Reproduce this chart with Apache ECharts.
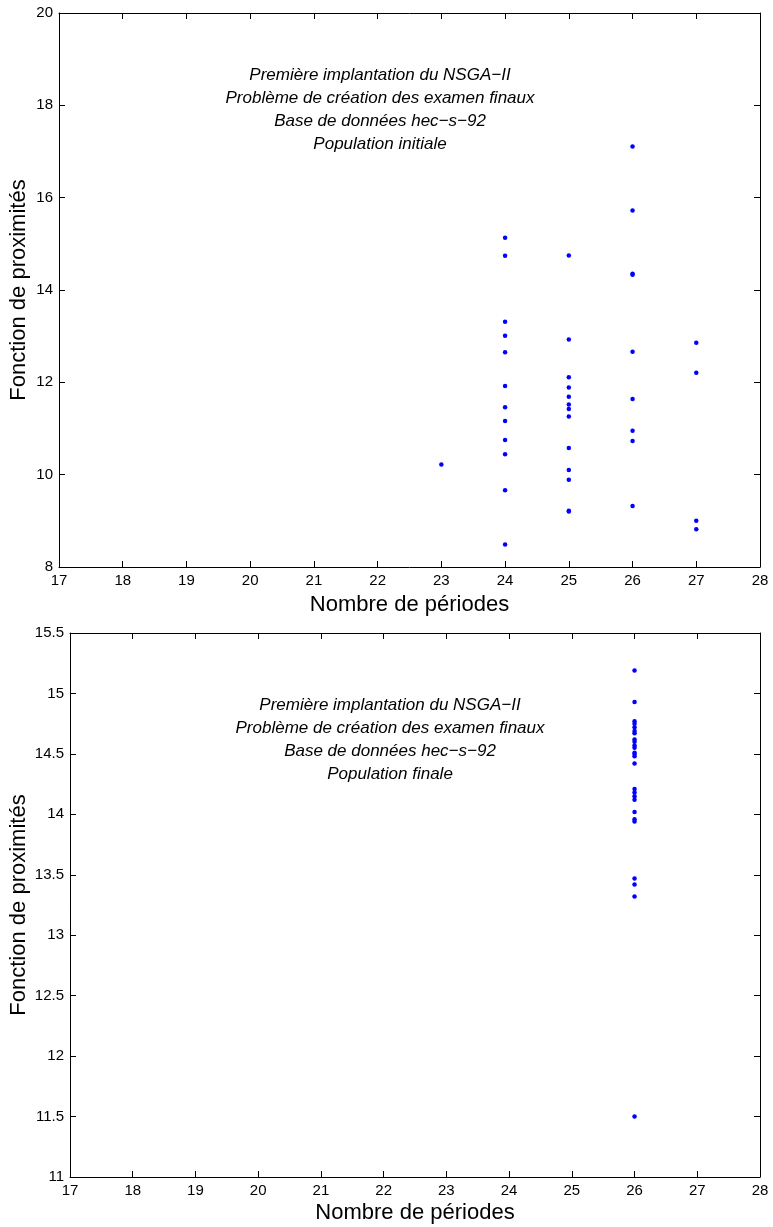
<!DOCTYPE html>
<html>
<head>
<meta charset="utf-8">
<script src="https://cdn.jsdelivr.net/npm/echarts@6/dist/echarts.min.js"></script>
<style>
html,body{margin:0;padding:0;background:#fff;}
#c{width:773px;height:1227px;}
</style>
</head>
<body>
<div id="c"></div>
<script>
// Initial population: number of periods and proximity function
const initPeriods = [23,
  24,24,24,24,24,24,24,24,24,24,24,24,
  25,25,25,25,25,25,25,25,25,25,25,25,25,
  26,26,26,26,26,26,26,26,26,
  27,27,27,27];
const initProx = [10.22,
  15.13,14.74,13.31,13.01,12.65,11.92,11.46,11.16,10.75,10.44,9.66,8.49,
  14.75,12.93,12.11,11.89,11.69,11.52,11.42,11.26,10.58,10.10,9.89,9.22,9.20,
  17.11,15.72,14.35,14.33,12.66,11.64,10.95,10.73,9.32,
  12.86,12.21,9.00,8.82];

// Final population
const finalPeriods = [26,26,26,26,26,26,26,26,26,26,26,26,26,26,26,26,26,26,26,26,26,26,26,26,26,26];
const finalProx = [15.19,14.93,14.77,14.75,14.72,14.69,14.67,14.62,14.60,14.57,14.55,14.51,14.50,14.48,14.42,
  14.21,14.18,14.15,14.12,14.02,13.96,13.94,13.47,13.42,13.32,11.50];

const topTitleLines = ["Première implantation du NSGA−II","Problème de création des examen finaux","Base de données hec−s−92","Population initiale"];
const botTitleLines = ["Première implantation du NSGA−II","Problème de création des examen finaux","Base de données hec−s−92","Population finale"];
const xName = "Nombre de périodes";
const yName = "Fonction de proximités";

const FONT = "'Liberation Sans', Arial, Helvetica, sans-serif";

function zip(a,b){return a.map((v,i)=>[v,b[i]]);}

const chart = echarts.init(document.getElementById('c'), null, {renderer:'canvas'});

const tickStyle = {show:true,inside:true,length:6,lineStyle:{color:'#000',width:1}};
function mainX(gi, gap){
  return {gridIndex:gi, type:'value', min:17, max:28, interval:1, position:'bottom',
    name:xName, nameLocation:'middle', nameGap:gap,
    nameTextStyle:{fontFamily:FONT,fontSize:22,color:'#000'},
    axisLine:{show:true,onZero:false,lineStyle:{color:'#000',width:1}},
    axisTick:tickStyle,
    axisLabel:{show:true,fontFamily:FONT,fontSize:15,color:'#000',margin:6},
    splitLine:{show:false}};
}
function mirrorX(gi){
  return {gridIndex:gi, type:'value', min:17, max:28, interval:1, position:'top',
    axisLine:{show:true,onZero:false,lineStyle:{color:'#000',width:1}},
    axisTick:tickStyle, axisLabel:{show:false}, splitLine:{show:false}};
}
function mainY(gi, min, max, interval, gap){
  return {gridIndex:gi, type:'value', min:min, max:max, interval:interval, position:'left',
    name:yName, nameLocation:'middle', nameGap:gap, nameRotate:90, nameMoveOverlap:false,
    nameTextStyle:{fontFamily:FONT,fontSize:22,color:'#000'},
    axisLine:{show:true,onZero:false,lineStyle:{color:'#000',width:1}},
    axisTick:tickStyle,
    axisLabel:{show:true,fontFamily:FONT,fontSize:15,color:'#000',margin:6},
    splitLine:{show:false}};
}
function mirrorY(gi, min, max, interval){
  return {gridIndex:gi, type:'value', min:min, max:max, interval:interval, position:'right',
    axisLine:{show:true,onZero:false,lineStyle:{color:'#000',width:1}},
    axisTick:tickStyle, axisLabel:{show:false}, splitLine:{show:false}};
}

const option = {
  animation:false,
  backgroundColor:'#fff',
  grid:[
    {left:59, top:13, width:701, height:554, containLabel:false, outerBoundsMode:'none'},
    {left:70, top:633, width:690, height:544, containLabel:false, outerBoundsMode:'none'}
  ],
  xAxis:[mainX(0,27), mirrorX(0), mainX(1,25), mirrorX(1)],
  yAxis:[mainY(0,8,20,2,29), mirrorY(0,8,20,2), mainY(1,11,15.5,0.5,40), mirrorY(1,11,15.5,0.5)],
  series:[
    {type:'scatter', xAxisIndex:0, yAxisIndex:0, data:zip(initPeriods, initProx),
     symbol:'circle', symbolSize:4.5, itemStyle:{color:'#0000ff', opacity:1}},
    {type:'scatter', xAxisIndex:2, yAxisIndex:2, data:zip(finalPeriods, finalProx),
     symbol:'circle', symbolSize:4.5, itemStyle:{color:'#0000ff', opacity:1}}
  ]
};

const topLines = topTitleLines.map((t,i)=>({text:t, left:380, top:67+i*23, textAlign:'center',
  textStyle:{fontFamily:FONT, fontSize:17, fontStyle:'italic', fontWeight:'normal', color:'#000'}}));
const botLines = botTitleLines.map((t,i)=>({text:t, left:390, top:697+i*23, textAlign:'center',
  textStyle:{fontFamily:FONT, fontSize:17, fontStyle:'italic', fontWeight:'normal', color:'#000'}}));
option.title = topLines.concat(botLines).map(o=>Object.assign({padding:0}, o));

chart.setOption(option);
</script>
</body>
</html>
